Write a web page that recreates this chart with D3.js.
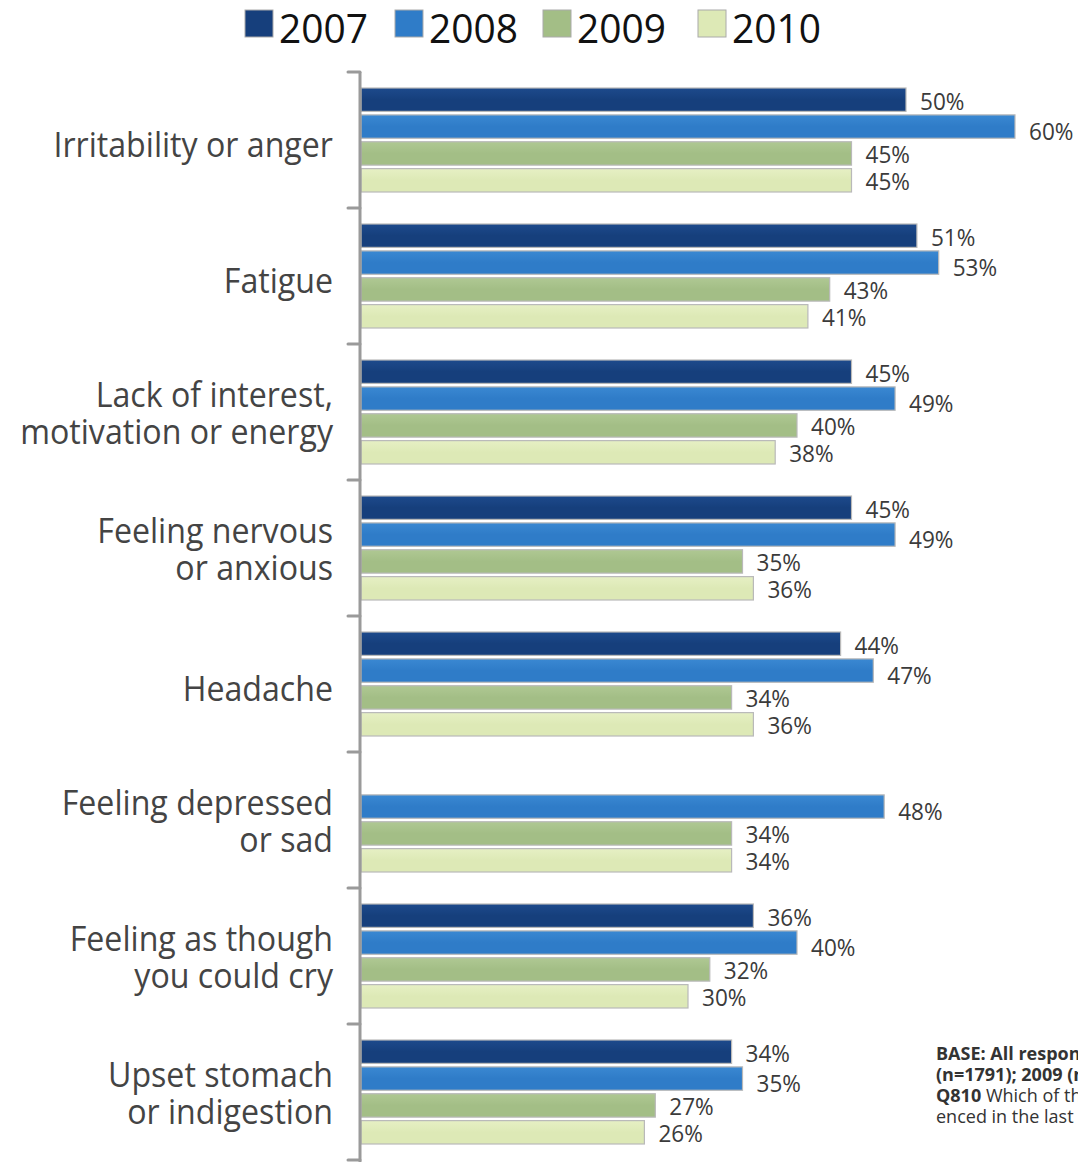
<!DOCTYPE html>
<html><head><meta charset="utf-8">
<script src="https://cdn.jsdelivr.net/npm/d3@7"></script>
<style>body{margin:0;background:#fff}svg{display:block}</style>
</head><body>
<svg id="c" width="1078" height="1162"></svg>
<script>
const categories = [
  ["Irritability or anger"],
  ["Fatigue"],
  ["Lack of interest,", "motivation or energy"],
  ["Feeling nervous", "or anxious"],
  ["Headache"],
  ["Feeling depressed", "or sad"],
  ["Feeling as though", "you could cry"],
  ["Upset stomach", "or indigestion"]
];
const years = ["2007", "2008", "2009", "2010"];
const v2007 = [50, 51, 45, 45, 44, null, 36, 34];
const v2008 = [60, 53, 49, 49, 47, 48, 40, 35];
const v2009 = [45, 43, 40, 35, 34, 34, 32, 27];
const v2010 = [45, 41, 38, 36, 36, 34, 30, 26];
const series = [v2007, v2008, v2009, v2010];
const colors = ["#163f7c", "#2f7cc8", "#a3be86", "#dde9b6"];
const colorsLight = ["#1d4a8c", "#3a88d2", "#afc893", "#e6f0c4"];
const footnote = ["BASE: All respondents", "(n=1791); 2009 (n=1568)", "Q810  Which of the following", "enced in the last month?"];

const svg = d3.select("#c");
const font = "'Open Sans', 'Noto Sans', sans-serif";
const textCol = "#3b3b3b";

const x = d3.scaleLinear().domain([0, 60]).range([361, 1015]);
const y = d3.scaleBand().domain(d3.range(categories.length)).range([72, 1160]);
const inner = d3.scaleBand().domain(d3.range(4)).range([16, y.bandwidth() - 16]).paddingInner(0.13);

// gradients
const defs = svg.append("defs");
colors.forEach((c, i) => {
  const g = defs.append("linearGradient").attr("id", "g" + i).attr("x1", 0).attr("y1", 0).attr("x2", 0).attr("y2", 1);
  g.append("stop").attr("offset", "0").attr("stop-color", colorsLight[i]);
  g.append("stop").attr("offset", "0.5").attr("stop-color", c);
  g.append("stop").attr("offset", "1").attr("stop-color", c);
});

// legend
const legX = [245, 395, 543, 698];
const legend = svg.append("g");
years.forEach((yr, i) => {
  legend.append("rect").attr("x", legX[i]).attr("y", 10).attr("width", 28).attr("height", 27)
    .attr("fill", colors[i]).attr("stroke", "#aaa").attr("stroke-width", 1);
  legend.append("text").attr("x", legX[i] + 34).attr("y", 43)
    .attr("font-family", font).attr("font-size", 40).attr("fill", "#111").text(yr)
    .attr("textLength", 89).attr("lengthAdjust", "spacingAndGlyphs");
});

// bars
const groups = svg.append("g").selectAll("g").data(categories).join("g")
  .attr("transform", (d, i) => `translate(0,${y(i)})`);

series.forEach((s, si) => {
  groups.each(function(d, gi) {
    const v = s[gi];
    if (v == null) return;
    const g = d3.select(this);
    g.append("rect").attr("x", x(0)).attr("y", inner(si))
      .attr("width", x(v) - x(0)).attr("height", inner.bandwidth())
      .attr("fill", `url(#g${si})`).attr("stroke", "#b9b9b9").attr("stroke-width", 1.2);
    g.append("text").attr("class", "val").attr("x", x(v) + 14)
      .attr("y", inner(si) + inner.bandwidth() / 2 + (si === 1 ? 4 : 1))
      .attr("dominant-baseline", "central")
      .attr("font-family", font).attr("font-size", 23).attr("fill", textCol)
      .text(v + "%");
  });
});

svg.selectAll("text.val").each(function() {
  const w = this.getComputedTextLength();
  d3.select(this).attr("textLength", w * 0.98).attr("lengthAdjust", "spacingAndGlyphs");
});

// axis
const axis = svg.append("g");
axis.append("line").attr("x1", 360).attr("x2", 360).attr("y1", 72).attr("y2", 1162)
  .attr("stroke", "#9a9a9a").attr("stroke-width", 3);
const tickYs = y.domain().map(i => y(i)).concat([y.range()[1]]);
axis.selectAll("line.t").data(tickYs).join("line").attr("class", "t")
  .attr("x1", 348).attr("x2", 360).attr("y1", d => d).attr("y2", d => d)
  .attr("stroke", "#9a9a9a").attr("stroke-width", 3).attr("stroke-linecap", "round");

// category labels
groups.each(function(d, gi) {
  const g = d3.select(this);
  const c = y.bandwidth() / 2;
  const lh = 37;
  d.forEach((line, li) => {
    g.append("text").attr("class", "cat")
      .attr("x", 333).attr("y", c + (li - (d.length - 1) / 2) * lh + (d.length === 1 ? 4 : 0))
      .attr("text-anchor", "end").attr("dominant-baseline", "central")
      .attr("font-family", font).attr("font-size", 34).attr("fill", "#444").text(line);
  });
});
svg.selectAll("text.cat").each(function() {
  const w = this.getComputedTextLength();
  d3.select(this).attr("textLength", w * 0.945).attr("lengthAdjust", "spacingAndGlyphs");
});

// footnote
footnote.forEach((line, i) => {
  const t = svg.append("text").attr("x", 936).attr("y", 1060 + i * 21)
    .attr("font-family", font).attr("font-size", 18).attr("fill", "#333")
    .attr("font-weight", i < 2 ? 700 : 400).text(line);
  if (i === 2) {
    t.text(null);
    t.append("tspan").attr("font-weight", 700).text("Q810");
    t.append("tspan").text("  Which of the following");
  }
});
</script>
</body></html>
